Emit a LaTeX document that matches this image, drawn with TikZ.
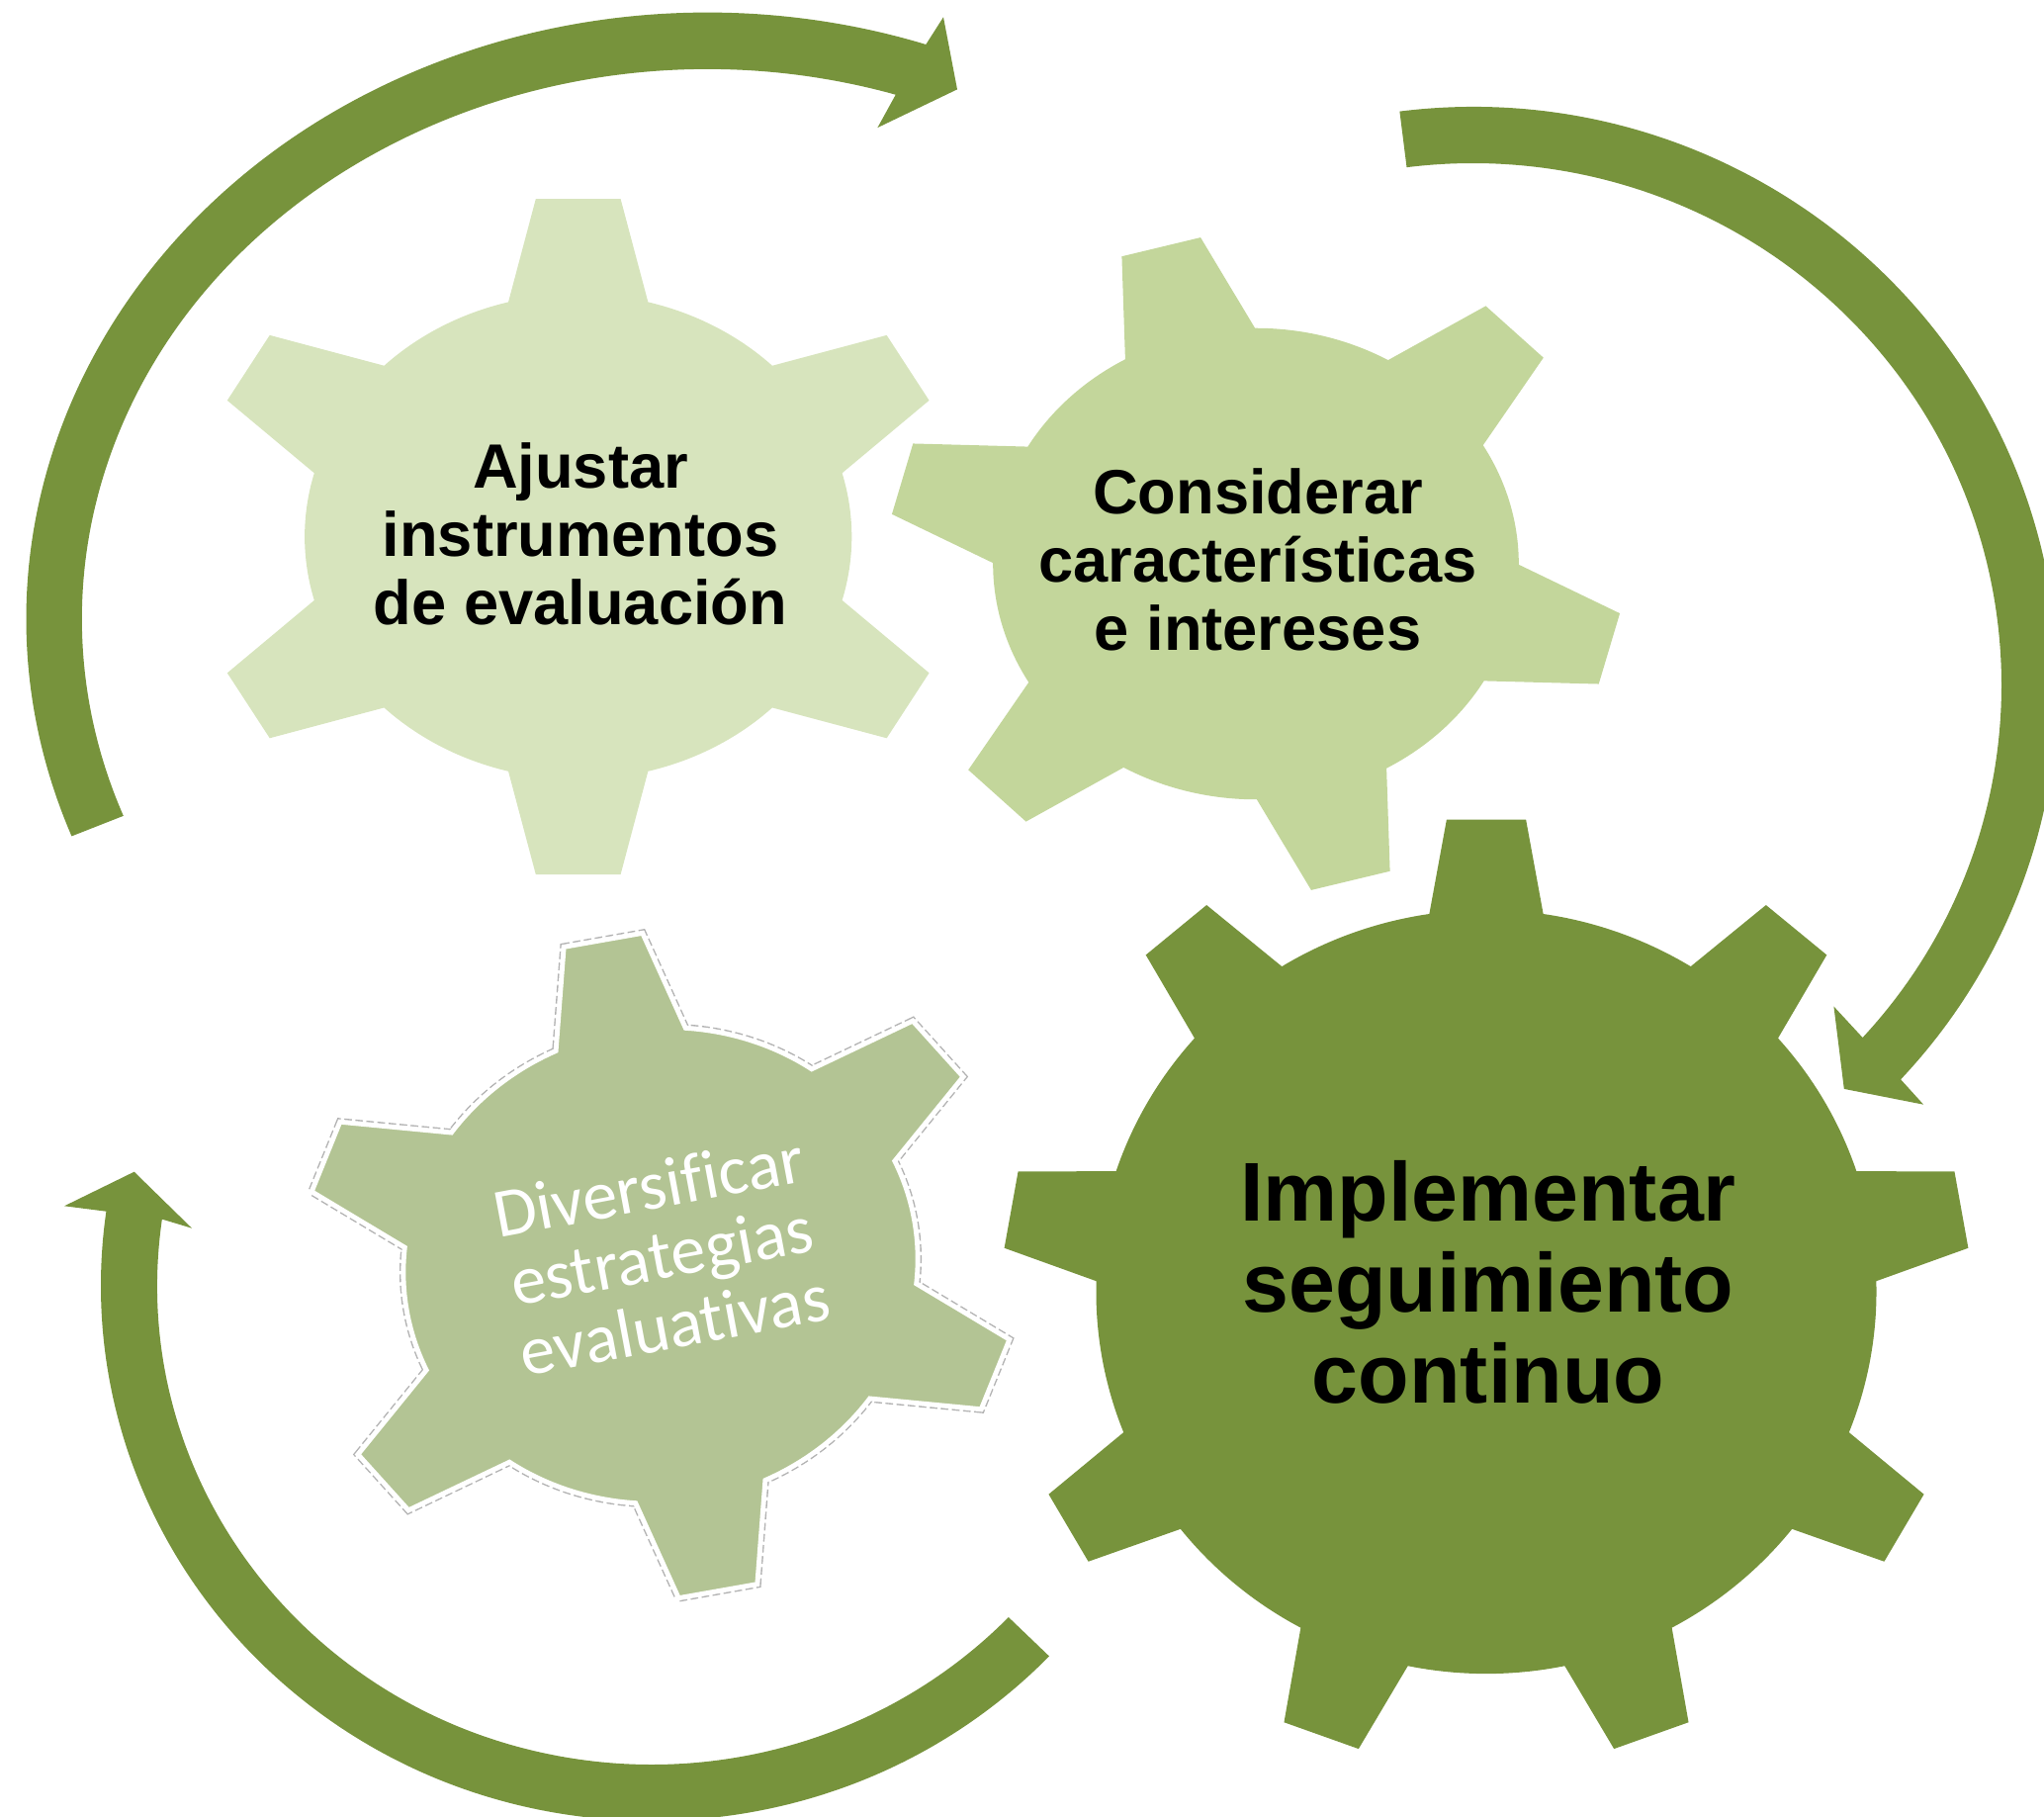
\documentclass[tikz,border=0pt]{standalone}
\usepackage{fontspec}
\setmainfont{Liberation Sans}
\newfontfamily\calibrifont[Ligatures=CommonOff]{Carlito}
\usepackage{tikz}
\usetikzlibrary{calc}
\definecolor{gearlight}{HTML}{D7E4BD}
\definecolor{gearmid}{HTML}{C3D69B}
\definecolor{geargray}{HTML}{B3C494}
\definecolor{olivedark}{HTML}{77933C}
% #1 options, #2 teeth, #3 first tooth angle, #4 body radius,
% #5 half angle at tooth base, #6 half angle at tooth tip
\newcommand{\gear}[6]{%
  \path[#1] (#3-#5:#4)
    \foreach \i [evaluate=\i as \tooth using #3+(\i-1)*360/#2] in {1,...,#2}
      { -- (\tooth-#6:1) -- (\tooth+#6:1) -- (\tooth+#5:#4)
        arc[start angle=\tooth+#5, end angle=\tooth+360/#2-#5, radius=#4] }
    -- cycle;}

\begin{document}
\begin{tikzpicture}[
    cyclearrow/.style={fill=olivedark},
    boldlabel/.style={align=center,text=black,font=\bfseries\fontsize{18}{19.6}\selectfont}]
  % Configurable parameters
  \def\bodyr{0.714}
  \def\basehalf{14.8}
  \def\tiphalf{6.36}
  %
  % Frame
  \useasboundingbox (0,0) rectangle (20.67,-18.37);
  \clip (0,0) rectangle (20.67,-18.37);
  %
  % Centres
  \coordinate (gearA) at (5.847,-5.426);
  \coordinate (gearB) at (12.70,-5.70);
  \coordinate (gearC) at (6.68,-12.795);
  \coordinate (gearD) at (15.03,-13.06);
  \coordinate (arcA) at (7.155,-6.257);
  \coordinate (arcB) at (14.895,-6.926);
  \coordinate (arcC) at (6.59,-13.00);
  %
  % Gears
  \begin{scope}[shift={(gearA)},xscale=3.874,yscale=3.436]
    \gear{fill=gearlight}{6}{90}{\bodyr}{\basehalf}{\tiphalf}
  \end{scope}
  \begin{scope}[shift={(gearB)},xscale=3.723,yscale=3.337]
    \gear{fill=gearmid}{6}{105}{\bodyr}{\basehalf}{\tiphalf}
  \end{scope}
  \begin{scope}[shift={(gearC)},rotate=10,xscale=3.652,yscale=3.363]
    \gear{draw=black!30,densely dotted,line width=2.2pt}{6}{90}{\bodyr}{\basehalf}{\tiphalf}
    \gear{fill=geargray,draw=white,line width=1.4pt}{6}{90}{\bodyr}{\basehalf}{\tiphalf}
  \end{scope}
  \begin{scope}[shift={(gearD)},xscale=4.895,yscale=4.791]
    \gear{fill=olivedark}{9}{90}{0.806}{8.4}{4.7}
  \end{scope}
  %
  % Cycle arrows
  \fill[cyclearrow] ($(arcA)+(201:6.888 and 6.131)$)
    arc[start angle=201, end angle=71.3, x radius=6.888, y radius=6.131]
    -- (9.54,-0.173) -- (9.68,-0.904) -- (8.874,-1.291)
    -- ($(arcA)+(72.5:6.327 and 5.557)$)
    arc[start angle=72.5, end angle=201, x radius=6.327, y radius=5.557] -- cycle;
  \fill[cyclearrow] ($(arcB)+(97.2:5.915 and 5.846)$)
    arc[start angle=97.2, end angle=-43, x radius=5.915, y radius=5.846]
    -- (19.451,-11.167) -- (18.648,-11.009) -- (18.544,-10.175)
    -- ($(arcB)+(-42.5:5.345 and 5.276)$)
    arc[start angle=-42.5, end angle=97.2, x radius=5.345, y radius=5.276] -- cycle;
  \fill[cyclearrow] ($(arcC)+(-43.8:5.57 and 5.41)$)
    arc[start angle=-43.8, end angle=-188, x radius=5.57, y radius=5.41]
    -- (0.65,-12.193) -- (1.357,-11.847) -- (1.94,-12.417)
    -- ($(arcC)+(-188:5.00 and 4.84)$)
    arc[start angle=-188, end angle=-43.8, x radius=5.00, y radius=4.84] -- cycle;
  %
  % Labels
  \node[boldlabel] (ajustar) at (5.87,-5.40) {Ajustar\\instrumentos\\de evaluación};
  \node[boldlabel] (considerar) at (12.72,-5.66) {Considerar\\características\\e intereses};
  \node[boldlabel,font=\bfseries\fontsize{24}{26.2}\selectfont] (implementar)
    at (15.05,-12.96) {Implementar\\seguimiento\\continuo};
  \node[align=center,text=white,font=\calibrifont\fontsize{20}{20.2}\selectfont,rotate=10.6]
    (diversificar) at (6.69,-12.69) {Diversificar\\estrategias\\evaluativas};
  %
\end{tikzpicture}
\end{document}
